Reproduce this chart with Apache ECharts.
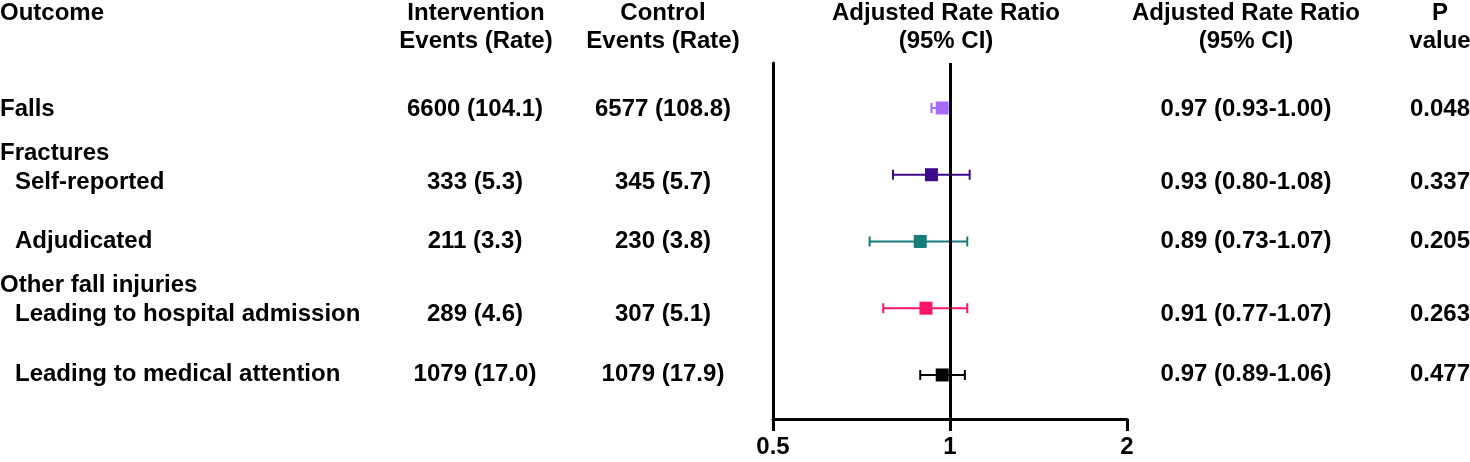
<!DOCTYPE html>
<html>
<head>
<meta charset="utf-8">
<script src="https://cdn.jsdelivr.net/npm/echarts@6/dist/echarts.min.js"></script>
<style>
html,body{margin:0;padding:0;background:#fff;}
#chart{width:1470px;height:462px;}
</style>
</head>
<body>
<div id="chart"></div>
<script>
// ---- data ----
const outcomes = ['Falls', 'Self-reported', 'Adjudicated', 'Leading to hospital admission', 'Leading to medical attention'];
const groupOf = ['', 'Fractures', 'Fractures', 'Other fall injuries', 'Other fall injuries'];
const interventionEvents = [6600, 333, 211, 289, 1079];
const interventionRate = ['104.1', '5.3', '3.3', '4.6', '17.0'];
const controlEvents = [6577, 345, 230, 307, 1079];
const controlRate = ['108.8', '5.7', '3.8', '5.1', '17.9'];
const rateRatio = [0.97, 0.93, 0.89, 0.91, 0.97];
const ciLow = [0.93, 0.80, 0.73, 0.77, 0.89];
const ciHigh = [1.00, 1.08, 1.07, 1.07, 1.06];
const pValues = ['0.048', '0.337', '0.205', '0.263', '0.477'];
const xTicks = [0.5, 1, 2];

// ---- styles / layout ----
const colors = ['#A66CFF', '#3D0A8C', '#167C7A', '#FF1468', '#000000'];
const FONT = 'bold 24px "Liberation Sans", Arial, sans-serif';
const rowTextY = [109, 182, 241, 314, 374];
const groupTextY = {'Fractures': 153, 'Other fall injuries': 285};

const chart = echarts.init(document.getElementById('chart'), null, {renderer: 'canvas'});

const graphics = [];
function txt(s, x, y, align) {
  graphics.push({type: 'text', x: x, y: y, silent: true,
    style: {text: s, font: FONT, fill: '#000', textAlign: align || 'left', textVerticalAlign: 'middle'}});
}
// headers
txt('Outcome', 0, 13, 'left');
txt('Intervention', 476, 13, 'center');
txt('Events (Rate)', 476, 41, 'center');
txt('Control', 663, 13, 'center');
txt('Events (Rate)', 663, 41, 'center');
txt('Adjusted Rate Ratio', 946, 13, 'center');
txt('(95% CI)', 946, 41, 'center');
txt('Adjusted Rate Ratio', 1246, 13, 'center');
txt('(95% CI)', 1246, 41, 'center');
txt('P', 1440, 13, 'center');
txt('value', 1440, 41, 'center');

// group headers
const seen = {};
groupOf.forEach(g => {
  if (g && !seen[g]) { seen[g] = true; txt(g, 0, groupTextY[g], 'left'); }
});
// rows
outcomes.forEach((o, i) => {
  const y = rowTextY[i];
  txt(o, groupOf[i] ? 15 : 0, y, 'left');
  txt(interventionEvents[i] + ' (' + interventionRate[i] + ')', 475, y, 'center');
  txt(controlEvents[i] + ' (' + controlRate[i] + ')', 663, y, 'center');
  txt(rateRatio[i].toFixed(2) + ' (' + ciLow[i].toFixed(2) + '-' + ciHigh[i].toFixed(2) + ')', 1246, y, 'center');
  txt(pValues[i], 1440, y, 'center');
});

const ciData = outcomes.map((o, i) => [ciLow[i], ciHigh[i], i]);
const pointData = outcomes.map((o, i) => ({value: [rateRatio[i], i], itemStyle: {color: colors[i], opacity: 1}}));

const option = {
  animation: false,
  backgroundColor: '#fff',
  grid: {left: 773, right: 343, top: 63, bottom: 43, containLabel: false},
  xAxis: {
    type: 'log', logBase: 2, min: xTicks[0], max: xTicks[xTicks.length - 1],
    axisLine: {show: true, onZero: false, lineStyle: {color: '#000', width: 3}},
    axisTick: {show: true, length: 12, lineStyle: {color: '#000', width: 3}},
    splitLine: {show: false},
    minorTick: {show: false},
    axisLabel: {
      color: '#000', fontSize: 24, fontWeight: 'bold', fontFamily: '"Liberation Sans", Arial, sans-serif',
      margin: 16,
      formatter: v => String(+Number(v).toPrecision(3))
    }
  },
  yAxis: {
    type: 'value', inverse: true, min: -0.674, max: 4.66,
    axisLine: {show: true, onZero: false, lineStyle: {color: '#000', width: 3}},
    axisTick: {show: false}, axisLabel: {show: false}, splitLine: {show: false}
  },
  series: [
    {
      type: 'custom',
      data: ciData,
      z: 3,
      renderItem: function (params, api) {
        const i = api.value(2);
        const a = api.coord([api.value(0), i]);
        const b = api.coord([api.value(1), i]);
        const cap = 5;
        const st = {stroke: colors[i], lineWidth: 2};
        return {type: 'group', children: [
          {type: 'line', shape: {x1: a[0], y1: a[1], x2: b[0], y2: b[1]}, style: st},
          {type: 'line', shape: {x1: a[0], y1: a[1] - cap, x2: a[0], y2: a[1] + cap}, style: st},
          {type: 'line', shape: {x1: b[0], y1: b[1] - cap, x2: b[0], y2: b[1] + cap}, style: st}
        ]};
      },
      markLine: {
        silent: true, symbol: 'none', label: {show: false},
        lineStyle: {color: '#000', width: 3, type: 'solid'},
        data: [{xAxis: 1}]
      }
    },
    {
      type: 'scatter',
      symbol: 'rect',
      symbolSize: 13,
      z: 4,
      itemStyle: {opacity: 1},
      data: pointData
    }
  ],
  graphic: graphics
};
chart.setOption(option);
</script>
</body>
</html>
